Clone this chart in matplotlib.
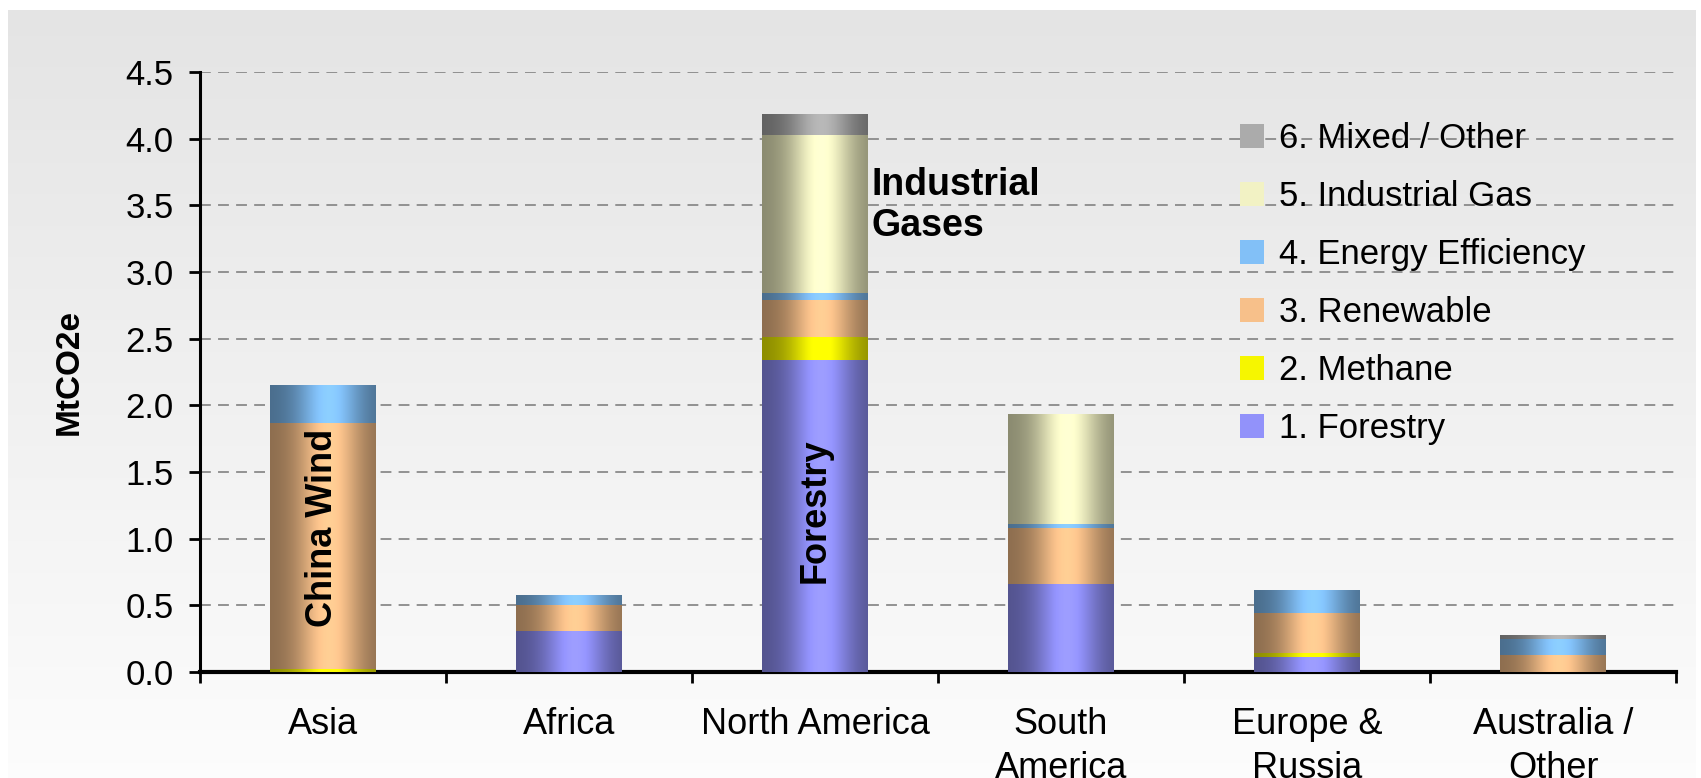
import numpy as np
import matplotlib
matplotlib.use("Agg")
import matplotlib.pyplot as plt
import matplotlib.colors as mcolors
from matplotlib.patches import Patch

plt.rcParams['font.family'] = ['Liberation Sans', 'DejaVu Sans']

# ---- data (MtCO2e by region and project type) ----
regions = ["Asia", "Africa", "North America", "South\nAmerica", "Europe &\nRussia", "Australia /\nOther"]
forestry = [0.00, 0.31, 2.34, 0.66, 0.11, 0.00]
methane = [0.02, 0.00, 0.17, 0.00, 0.03, 0.00]
renewable = [1.85, 0.19, 0.28, 0.42, 0.30, 0.13]
efficiency = [0.28, 0.07, 0.05, 0.03, 0.17, 0.12]
industrial = [0.00, 0.00, 1.19, 0.82, 0.00, 0.00]
mixed = [0.00, 0.00, 0.15, 0.00, 0.00, 0.03]

series_names = ["1. Forestry", "2. Methane", "3. Renewable", "4. Energy Efficiency",
                "5. Industrial Gas", "6. Mixed / Other"]
series_values = [forestry, methane, renewable, efficiency, industrial, mixed]
series_colors = ["#9292fa", "#f6f600", "#f7c08a", "#82c0f7", "#f2f2c4", "#ababab"]


def shade_bar(ax, patch, color):
    # cylinder look: dark at the sides, light just right of centre
    x0, y0 = patch.get_x(), patch.get_y()
    w, h = patch.get_width(), patch.get_height()
    if h <= 0:
        return
    u = np.linspace(0, 1, 80)
    k = 0.56 + 0.52 * np.exp(-((u - 0.56) / 0.30) ** 2)
    base = np.array(mcolors.to_rgb(color))
    rgb = np.clip(base[None, :] * k[:, None], 0, 1)
    ax.imshow(rgb[None, :, :], extent=(x0, x0 + w, y0, y0 + h), aspect='auto',
              interpolation='bilinear', zorder=3)


fig = plt.figure(figsize=(17.01, 7.78), dpi=100)
fig.patch.set_facecolor('white')

# grey panel behind everything, fading to white at the bottom
bg = fig.add_axes([8 / 1701, 0, 1 - 14 / 1701, 1 - 10 / 778], zorder=-10)
grad = np.linspace(0.895, 0.99, 256)[:, None] * np.ones((1, 4))
bg.imshow(np.dstack([grad, grad, grad]), aspect='auto', extent=(0, 1, 0, 1))
bg.axis('off')

ax = fig.add_axes([200 / 1701, 1 - 672 / 778, 1476 / 1701, 600 / 778])
ax.patch.set_alpha(0)

x = np.arange(len(regions))
width = 0.43
bottom = np.zeros(len(regions))
for name, vals, col in zip(series_names, series_values, series_colors):
    vals = np.array(vals)
    bars = ax.bar(x, vals, width, bottom=bottom, color=col, label=name, zorder=2, linewidth=0)
    for p in bars.patches:
        shade_bar(ax, p, col)
    bottom += vals

ax.set_xlim(-0.5, len(regions) - 0.5)
ax.set_ylim(0, 4.5)
ax.set_yticks(np.arange(0, 4.51, 0.5))
ax.set_yticklabels([f"{v:.1f}" for v in np.arange(0, 4.51, 0.5)])
ax.set_xticks(x)
ax.set_xticklabels(regions, linespacing=1.35)
ax.set_xticks(np.arange(-0.5, len(regions)), minor=True)

ax.tick_params(axis='y', direction='out', length=8, width=2, labelsize=25, pad=11)
ax.tick_params(axis='x', which='major', length=0, labelsize=26, pad=25)
ax.tick_params(axis='x', which='minor', direction='out', length=8, width=2)

ax.yaxis.grid(True, linestyle=(0, (6, 4)), color='#8a8a8a', linewidth=1.3, zorder=0)
ax.set_axisbelow(True)
for s in ['top', 'right']:
    ax.spines[s].set_visible(False)
ax.spines['left'].set_linewidth(2.2)
ax.spines['bottom'].set_linewidth(3)

ax.set_ylabel("MtCO2e", fontsize=24, fontweight='bold', labelpad=29)

# callouts for the dominant project types
ax.text(0, 1.08, "China Wind", rotation=90, ha='center', va='center',
        fontsize=26, fontweight='bold', zorder=5)
ax.text(2, 1.21, "Forestry", rotation=90, ha='center', va='center',
        fontsize=26, fontweight='bold', zorder=5)
ax.text(2.23, 3.50, "Industrial\nGases", ha='left', va='center',
        fontsize=27, fontweight='bold', linespacing=1.2, zorder=5)

handles = [Patch(facecolor=c, edgecolor='none') for c in series_colors][::-1]
ax.legend(handles, series_names[::-1], loc='upper left',
          bbox_to_anchor=(1240 / 1701, 1 - 122 / 778), bbox_transform=fig.transFigure,
          frameon=False, fontsize=25, handlelength=0.68, handleheight=0.68,
          handletextpad=0.45, labelspacing=0.72, borderpad=0, borderaxespad=0)

fig.savefig("out.png", dpi=100)
